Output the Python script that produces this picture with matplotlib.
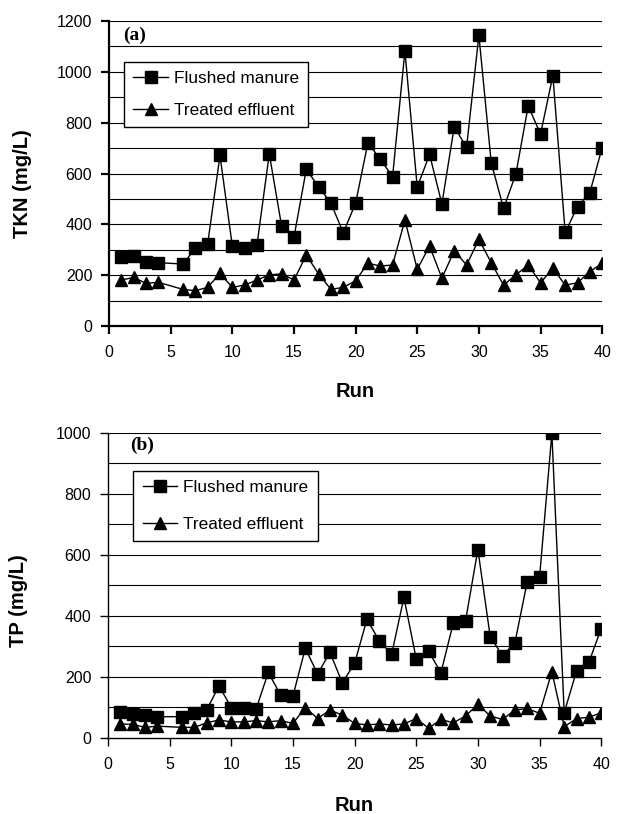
import numpy as np
import matplotlib.pyplot as plt

plt.rcParams['font.family'] = ['Liberation Sans', 'DejaVu Sans']

# run numbers (run 5 is missing)
runs = [1, 2, 3, 4] + list(range(6, 41))

# panel (a): TKN, mg/L
tkn_manure = [270, 275, 253, 249, 244, 306, 323, 671, 315, 306, 319, 677, 393, 349,
              616, 548, 483, 367, 483, 721, 656, 588, 1082, 546, 675, 480, 784, 703,
              1144, 643, 463, 598, 866, 755, 985, 368, 470, 525, 702]
tkn_effluent = [181, 191, 168, 172, 144, 139, 152, 207, 152, 161, 181, 201, 205, 181,
                279, 205, 144, 152, 178, 247, 236, 240, 417, 223, 315, 188, 296, 240,
                341, 249, 161, 201, 240, 170, 227, 161, 170, 214, 247]

# panel (b): TP, mg/L
tp_manure = [83, 77, 74, 69, 69, 82, 91, 170, 99, 96, 93, 214, 140, 137,
             293, 209, 280, 180, 244, 388, 318, 273, 460, 258, 284, 213, 375, 384,
             617, 331, 269, 311, 511, 526, 998, 82, 219, 247, 358]
tp_effluent = [45, 44, 34, 38, 34, 34, 49, 58, 52, 52, 56, 52, 56, 47,
               99, 63, 91, 74, 47, 42, 45, 42, 45, 63, 31, 60, 49, 71,
               110, 71, 60, 91, 96, 80, 216, 36, 63, 67, 82]

fig = plt.figure(figsize=(6.18, 8.14), dpi=100)
ax1 = fig.add_axes([0.1764, 0.5995, 0.798, 0.3747])
ax2 = fig.add_axes([0.1748, 0.0937, 0.798, 0.3747])

panels = [
    # ax, series, ymax, label, tag, spine width, legend anchor, tag pos, ylabel pos, xlabel y, labelspacing
    (ax1, tkn_manure, tkn_effluent, 1200, 'TKN (mg/L)', '(a)', 1.6, (0.030, 0.866), (0.028, 0.98), (-0.156, 0.467), -0.185, 0.95),
    (ax2, tp_manure, tp_effluent, 1000, 'TP (mg/L)', '(b)', 1.0, (0.051, 0.875), (0.045, 0.987), (-0.162, 0.45), -0.19, 1.25),
]

for ax, manure, effluent, ymax, ylab, tag, spw, legpos, tagpos, ylpos, xly, lsp in panels:
    for y in range(100, ymax + 1, 100):
        ax.axhline(y, color='black', lw=0.8, zorder=0)
    ax.plot(runs, manure, color='black', lw=1, marker='s', ms=8.3,
            label='Flushed manure', zorder=3)
    ax.plot(runs, effluent, color='black', lw=1, marker='^', ms=9,
            label='Treated effluent', zorder=3)
    ax.set_xlim(0, 40)
    ax.set_ylim(0, ymax)
    ax.set_xticks(range(0, 41, 5))
    ax.set_yticks(range(0, ymax + 1, 200))
    ax.spines['top'].set_visible(False)
    ax.spines['right'].set_visible(False)
    ax.spines['left'].set_linewidth(spw)
    ax.spines['bottom'].set_linewidth(spw)
    ax.tick_params(direction='out', length=6, width=spw, labelsize=11.5)
    ax.tick_params(axis='x', pad=8)
    ax.tick_params(axis='y', pad=6)
    ax.set_xlabel('Run', fontsize=14.5, fontweight='bold')
    ax.set_ylabel(ylab, fontsize=14.5, fontweight='bold')
    ax.xaxis.set_label_coords(0.5, xly)
    ax.yaxis.set_label_coords(*ylpos)
    ax.xaxis.label.set_va('top')
    ax.text(tagpos[0], tagpos[1], tag, transform=ax.transAxes, va='top', ha='left',
            fontsize=14, fontweight='bold', family='Liberation Serif')
    leg = ax.legend(loc='upper left', bbox_to_anchor=legpos, borderaxespad=0,
                    fontsize=12.4, fancybox=False, framealpha=1, edgecolor='black',
                    handlelength=2.0, handletextpad=0.35, labelspacing=lsp,
                    borderpad=0.55)
    leg.get_frame().set_linewidth(1)

fig.savefig('out.png', dpi=100)
